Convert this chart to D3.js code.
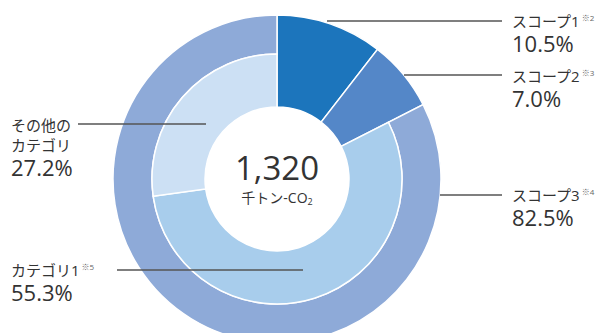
<!DOCTYPE html>
<meta charset="utf-8">
<style>
    html, body {
        margin: 0;
        background: #fff;
    }

    svg text {
        font-family: "Open Sans", "Noto Sans CJK JP", sans-serif;
        fill: #333;
    }

    .leader {
        stroke: #555;
        stroke-width: 1.5;
    }
</style>
<div id="chart"></div>
<script src="https://cdnjs.cloudflare.com/ajax/libs/d3/7.8.5/d3.min.js"></script>
<script>
    // data
    var scopeNames = ["スコープ1", "スコープ2", "スコープ3"];
    var scopeNotes = ["※2", "※3", "※4"];
    var scopeValues = [10.5, 7.0, 82.5];
    var scopeColors = ["#1c75bc", "#5487c8", "#8eaad8"];

    var categoryNames = [["カテゴリ1"], ["その他の", "カテゴリ"]];
    var categoryNotes = ["※5", ""];
    var categoryValues = [55.3, 27.2];
    var categoryColors = ["#a8cdec", "#cce0f4"];

    var totalValue = "1,320";
    var totalUnit = "千トン-CO";

    var width = 598, height = 333;
    var cx = 277, cy = 179;
    var rHole = 72, rMid = 125, rOuter = 164;

    var svg = d3.select("#chart").append("svg")
        .attr("width", width)
        .attr("height", height);

    var g = svg.append("g").attr("transform", "translate(" + cx + "," + cy + ")");

    // outer pie: scopes
    var scopeArcs = d3.pie().sort(null).value(function(d) { return d; })(scopeValues);
    var s3 = scopeArcs[2];

    // inner pie: categories, laid out inside scope 3's angle range
    var catArcs = d3.pie().sort(null).value(function(d) { return d; })
        .startAngle(s3.startAngle).endAngle(s3.endAngle)(categoryValues);

    var fullArc = d3.arc().innerRadius(rHole).outerRadius(rOuter);
    var outerArc = d3.arc().innerRadius(rMid).outerRadius(rOuter);
    var innerArc = d3.arc().innerRadius(rHole).outerRadius(rMid);

    // scope 1 & 2 span the full depth, scope 3 only the outer ring
    g.selectAll("path.scope")
        .data(scopeArcs)
        .enter().append("path")
        .attr("class", "scope")
        .attr("d", function(d, i) { return i < 2 ? fullArc(d) : outerArc(d); })
        .attr("fill", function(d, i) { return scopeColors[i]; })
        .attr("stroke", "#fff")
        .attr("stroke-width", 1.5);

    g.selectAll("path.cat")
        .data(catArcs)
        .enter().append("path")
        .attr("class", "cat")
        .attr("d", innerArc)
        .attr("fill", function(d, i) { return categoryColors[i]; })
        .attr("stroke", "#fff")
        .attr("stroke-width", 1.5);

    // center label
    g.append("text")
        .attr("text-anchor", "middle")
        .attr("y", 1)
        .style("font-size", "33px")
        .text(totalValue);
    var unit = g.append("text")
        .attr("text-anchor", "middle")
        .attr("y", 24)
        .style("font-size", "14px")
        .text(totalUnit);
    unit.append("tspan").attr("dy", 2).style("font-size", "9px").text("2");

    // labels (layout only)
    var scopeLabels = [
        {x1: 327, x2: 502, y: 21, tx: 512, ty: 27},
        {x1: 404, x2: 502, y: 75, tx: 512, ty: 82},
        {x1: 440, x2: 502, y: 195, tx: 512, ty: 201}
    ];
    var catLabels = [
        {x1: 117, x2: 303, y: 270, tx: 11, ty: 276},
        {x1: 78, x2: 206, y: 124, tx: 11, ty: 131}
    ];

    function drawLabel(pos, lines, note, value) {
        svg.append("line")
            .attr("class", "leader")
            .attr("x1", pos.x1).attr("x2", pos.x2)
            .attr("y1", pos.y).attr("y2", pos.y);
        var lastY = pos.ty;
        lines.forEach(function(line, k) {
            var t = svg.append("text")
                .attr("x", pos.tx)
                .attr("y", pos.ty + k * 20)
                .style("font-size", "15px")
                .text(line);
            if (k === lines.length - 1 && note) {
                t.append("tspan").attr("dx", 2).attr("dy", -6)
                    .style("font-size", "8px").style("fill", "#666").text(note);
            }
            lastY = pos.ty + k * 20;
        });
        svg.append("text")
            .attr("x", pos.tx)
            .attr("y", lastY + 25)
            .style("font-size", "22px")
            .text(value.toFixed(1) + "%");
    }

    scopeLabels.forEach(function(p, i) {
        drawLabel(p, [scopeNames[i]], scopeNotes[i], scopeValues[i]);
    });
    catLabels.forEach(function(p, i) {
        drawLabel(p, categoryNames[i], categoryNotes[i], categoryValues[i]);
    });
</script>
